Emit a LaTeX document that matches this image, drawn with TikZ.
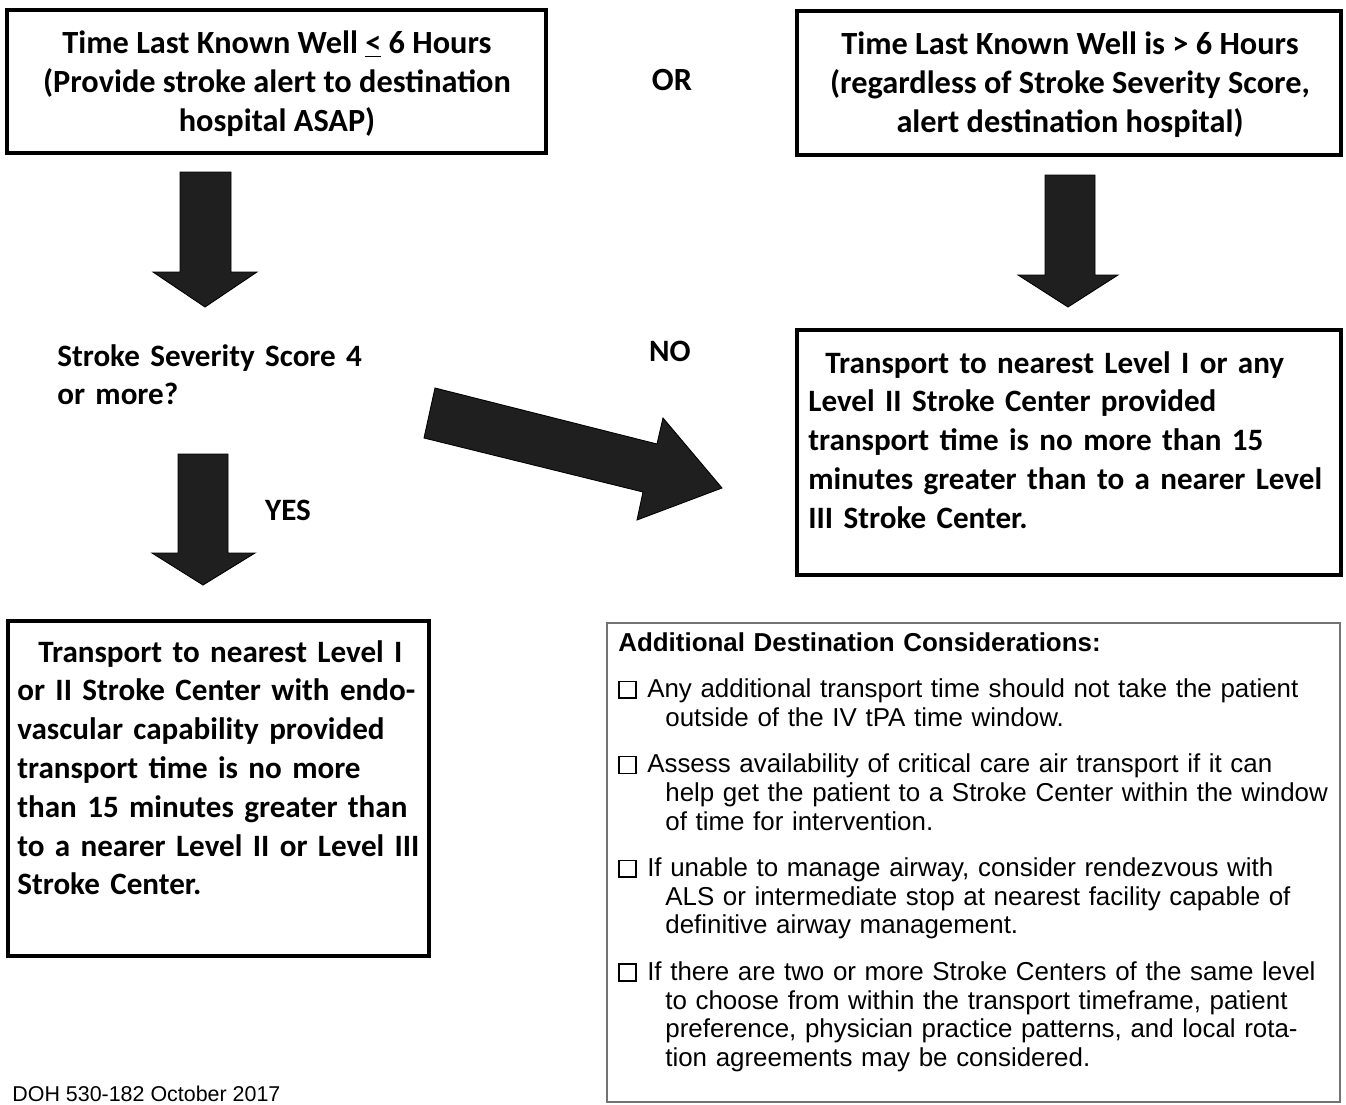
\documentclass[tikz,border=0pt]{standalone}
\usepackage{fontspec}
\setmainfont{Carlito}
\newfontfamily\arialfont{Liberation Sans}
\usepackage{tikz}
\usetikzlibrary{positioning}
\newcommand{\chkbox}{\raisebox{0.01em}{\setlength{\fboxsep}{0pt}\setlength{\fboxrule}{1pt}\fbox{\rule{0pt}{0.58em}\hspace{0.58em}}}\hspace{0.4em}}
\newcommand{\consitem}[1]{\hangindent=0.94cm\hangafter=1 \chkbox#1\par}

\begin{document}
\begin{tikzpicture}[x=0.02cm, y=-0.02cm,
                    flowbox/.style={draw=black, line width=2.2pt, inner sep=0pt},
                    cali/.style={font=\bfseries\fontsize{17.7}{22.1}\selectfont, inner sep=0pt},
                    calitop/.style={font=\bfseries\fontsize{18.4}{22.1}\selectfont, inner sep=0pt},
                    blockarrow/.style={fill=black!88, draw=black, line width=0.5pt}]
  \tikzstyle{note}=[font=\arialfont\fontsize{14.75}{16.3}\selectfont, inner sep=0pt]

  \useasboundingbox (0,0) rectangle (1346,1105);
  \clip (0,0) rectangle (1346,1105);

  % top row
  \node[flowbox, minimum width=10.78cm, minimum height=2.86cm] (le6) at (276.5,81.5) {};
  \node[calitop, align=center] (le6t) at (277,84)
       {Time Last Known Well \underline{<} 6 Hours\\(Provide stroke alert to destination\\hospital ASAP)};
  \node[flowbox, minimum width=10.88cm, minimum height=2.88cm] (gt6) at (1069,83) {};
  \node[calitop, align=center] (gt6t) at (1070,85)
       {Time Last Known Well is > 6 Hours\\(regardless of Stroke Severity Score,\\alert destination hospital)};
  \node[calitop] (or) at (672,80) {OR};

  % right column
  \node[flowbox, minimum width=10.88cm, minimum height=4.9cm] (lvl12) at (1069,452.5) {};
  \node[cali, anchor=base west, text width=12cm, align=left] (lvl12t) at (808,373)
       {\hspace*{0.34cm}Transport to nearest Level I or any\\ Level II Stroke Center provided\\
        transport time is no more than 15\\ minutes greater than to a nearer Level\\ III Stroke Center.};

  % left column
  \node[cali, anchor=base west, text width=8cm, align=left] (sev) at (57,366)
       {Stroke Severity Score 4\\ or more?};
  \node[cali] (no) at (670,351) {NO};
  \node[cali] (yes) at (288,510) {YES};

  \node[flowbox, minimum width=8.42cm, minimum height=6.7cm] (endo) at (218.5,788.5) {};
  \node[cali, anchor=base west, text width=9cm, align=left] (endot) at (17,662)
       {\hspace*{0.42cm}Transport to nearest Level I\\ or II Stroke Center with endo-\\
        vascular capability provided\\ transport time is no more\\ than 15 minutes greater than\\
        to a nearer Level II or Level III\\ Stroke Center.};

  % considerations
  \node[draw=black!55, line width=1.1pt, minimum width=14.66cm, minimum height=9.58cm] (cons) at (973.5,862.5) {};
  \node[note, anchor=base west, text width=15.6cm, align=left] (const) at (618,651)
       {\setlength{\parskip}{10.2pt}\hyphenpenalty=10000\textbf{Additional Destination Considerations:}\par
        \consitem{Any additional transport time should not take the patient\newline outside of the IV tPA time window.}
        \consitem{Assess availability of critical care air transport if it can\newline help get the patient to a Stroke Center within the window\newline of time for intervention.}
        \consitem{If unable to manage airway, consider rendezvous with\newline ALS or intermediate stop at nearest facility capable of\newline definitive airway management.}
        \consitem{If there are two or more Stroke Centers of the same level\newline to choose from within the transport timeframe, patient\newline preference, physician practice patterns, and local rota-\newline tion agreements may be considered.}};

  \node[note, font=\arialfont\fontsize{12.2}{14}\selectfont, anchor=base west] (doh) at (12,1101) {DOH 530-182 October 2017};

  % block arrows
  \draw[blockarrow] (180,172) -- (231,172) -- (231,272) -- (257,272) -- (205,307)
                    -- (153,272) -- (180,272) -- cycle;
  \draw[blockarrow] (1045,175) -- (1095,175) -- (1095,275) -- (1118,275) -- (1068,307)
                    -- (1018,275) -- (1045,275) -- cycle;
  \draw[blockarrow] (178,454) -- (228,454) -- (228,553) -- (255,553) -- (203,585)
                    -- (152,553) -- (178,553) -- cycle;
  \draw[blockarrow] (435,388) -- (657,444) -- (663,418) -- (722,488) -- (637,520)
                    -- (643,492) -- (424,438) -- cycle;

\end{tikzpicture}
\end{document}
